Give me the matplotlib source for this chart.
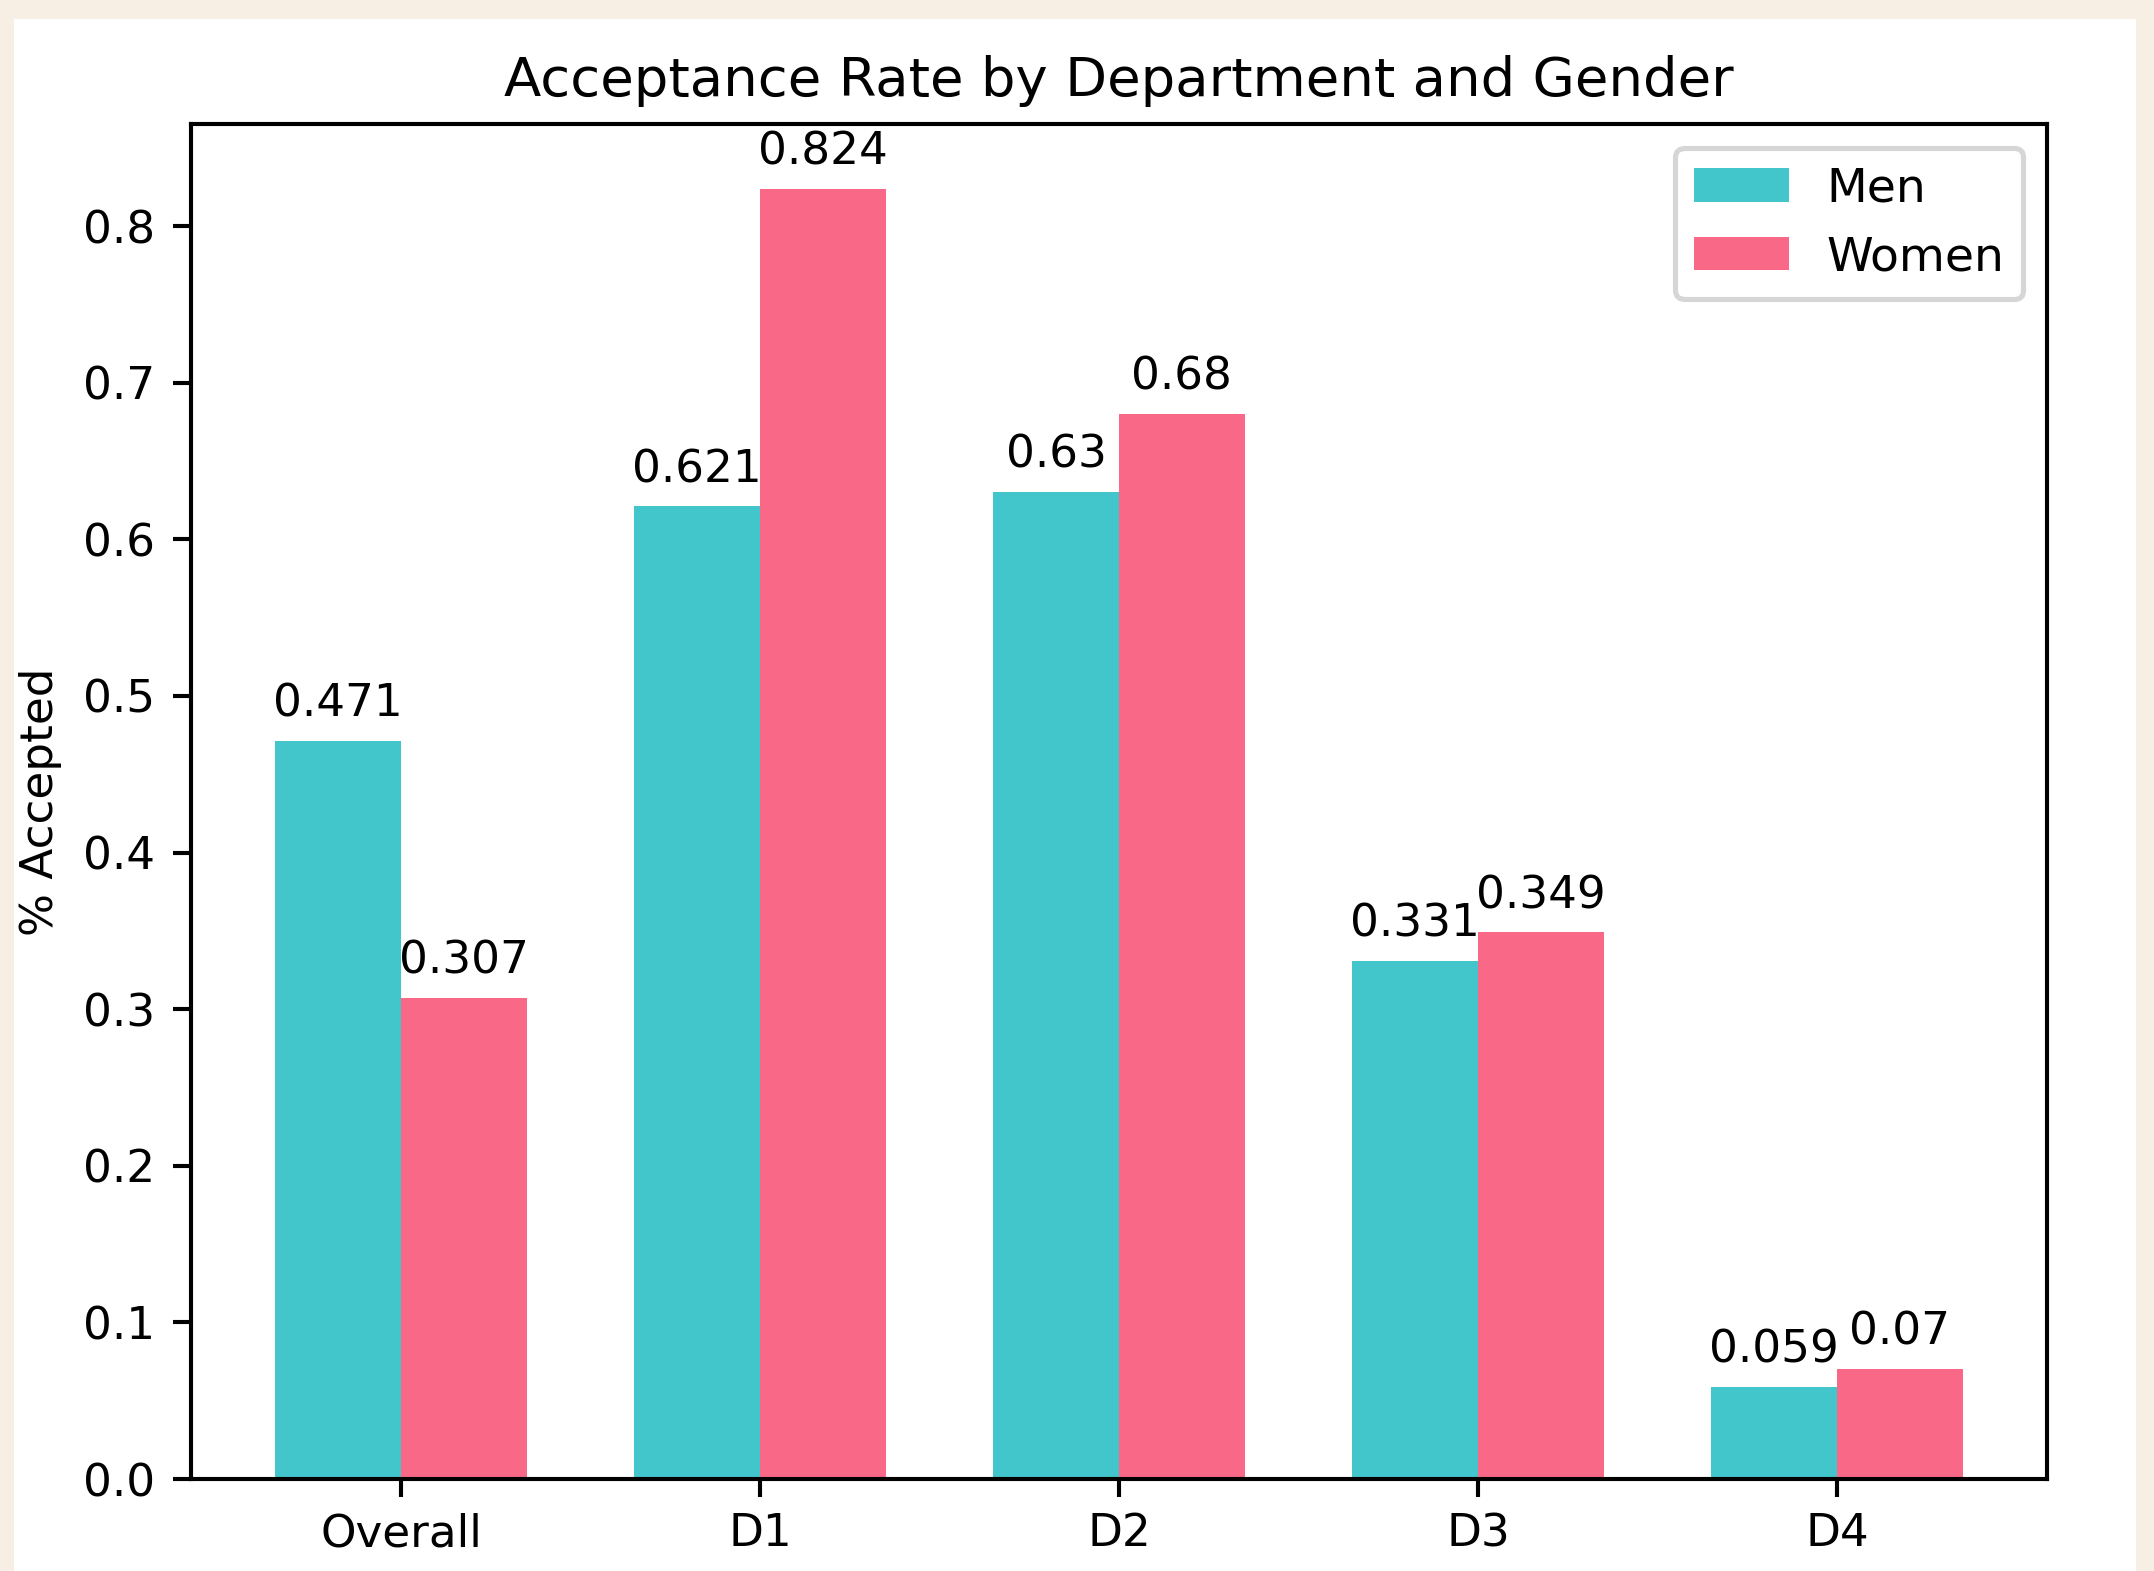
import matplotlib
matplotlib.use("Agg")
import matplotlib.pyplot as plt
import numpy as np
from matplotlib.patches import Rectangle

labels = ['Overall', 'D1', 'D2', 'D3', 'D4']
men = [0.471, 0.621, 0.63, 0.331, 0.059]
women = [0.307, 0.824, 0.68, 0.349, 0.07]

plt.rcParams['font.size'] = 8.8
plt.rcParams['axes.titlesize'] = 10.6

DPI = 370
fig = plt.figure(figsize=(2154 / DPI, 1571 / DPI), dpi=DPI)
fig.patch.set_facecolor('#f7efe4')
# white canvas of the screenshot inside the beige frame
fig.patches.append(Rectangle((14 / 2154, 0), (2136 - 14) / 2154, (1571 - 19) / 1571,
                             transform=fig.transFigure, facecolor='white',
                             edgecolor='none', zorder=-10))

ax = fig.add_axes([191 / 2154, (1571 - 1479) / 1571, (2047 - 191) / 2154, (1479 - 124) / 1571])

x = np.arange(len(labels))
w = 0.35
b1 = ax.bar(x - w / 2, men, w, label='Men', color='#42c6cb')
b2 = ax.bar(x + w / 2, women, w, label='Women', color='#f96987')

for bars in (b1, b2):
	for rect in bars:
		h = rect.get_height()
		ax.annotate('{}'.format(h), xy=(rect.get_x() + rect.get_width() / 2, h),
					xytext=(0, 3), textcoords='offset points', ha='center', va='bottom')

ax.set_ylabel('% Accepted')
ax.set_title('Acceptance Rate by Department and Gender', pad=5.5)
ax.set_xticks(x)
ax.set_xticklabels(labels)
ax.tick_params(axis='x', pad=3)
ax.legend(loc='upper right', fontsize=9.2)

fig.savefig('out.png', dpi=DPI, facecolor=fig.get_facecolor())
